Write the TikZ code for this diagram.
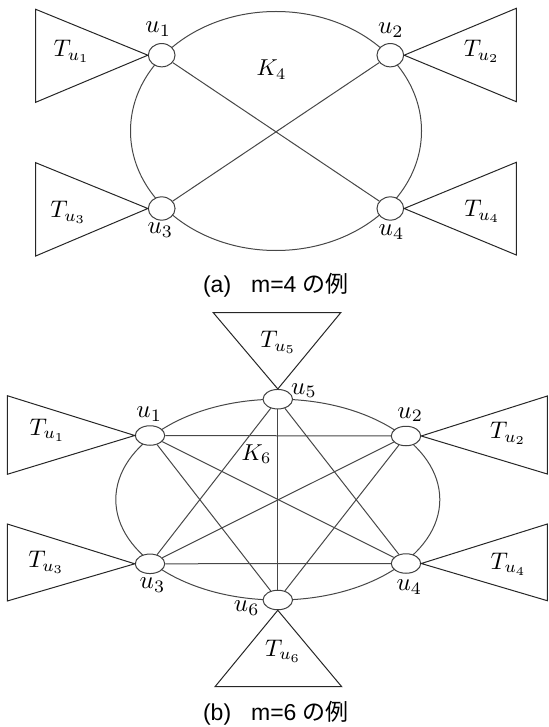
\documentclass[tikz,border=0pt]{standalone}
\usepackage{fontspec}
\setmainfont{Liberation Sans}
\newfontfamily\cjk{Noto Sans CJK JP}
\usetikzlibrary{shapes.geometric}
\begin{document}
\begin{tikzpicture}[x=1pt,y=-1pt,
  vert/.style={ellipse,draw=black!75,fill=white,line width=1pt,inner sep=0pt},
  vtop/.style={vert,minimum width=26.7pt,minimum height=23.3pt},
  vbot/.style={vert,minimum width=29.5pt,minimum height=19.5pt},
  edge/.style={draw=black!72,line width=1pt},
  tri/.style={draw=black!85,line width=1pt},
  ulab/.style={inner sep=0pt,scale=2.5},
  tlab/.style={inner sep=0pt,scale=2.4},
  klab/.style={inner sep=0pt,scale=2.3},
  captext/.style={font=\fontsize{23}{27}\selectfont,anchor=base,inner sep=0pt}]
\useasboundingbox (0,0) rectangle (548,727);

% ---------- (a) K4 ----------
\draw[edge] (276,131) ellipse [x radius=145.5pt, y radius=119.5pt];
\node[vtop] (a1) at (161.7,55.2) {};
\node[vtop] (a2) at (390.3,55.2) {};
\node[vtop] (a3) at (161.7,208.5) {};
\node[vtop] (a4) at (390.3,208.5) {};
\draw[edge] (a1) -- (a4);
\draw[edge] (a2) -- (a3);

\coordinate (t1a) at (35.7,9.3);   \coordinate (t1b) at (35.7,102.3);
\coordinate (t2a) at (516.3,8.3);  \coordinate (t2b) at (516.3,101.7);
\coordinate (t3a) at (35.7,162.7); \coordinate (t3b) at (35.7,256);
\coordinate (t4a) at (516.3,162.3);\coordinate (t4b) at (516.3,255);
\draw[tri] (a1.west) -- (t1a) -- (t1b) -- cycle;
\draw[tri] (a2.east) -- (t2a) -- (t2b) -- cycle;
\draw[tri] (a3.west) -- (t3a) -- (t3b) -- cycle;
\draw[tri] (a4.east) -- (t4a) -- (t4b) -- cycle;

\node[ulab] (la1) at (158.2,29.2) {$u_1$};
\node[ulab] (la2) at (390.8,30) {$u_2$};
\node[ulab] (la3) at (160.3,230.3) {$u_3$};
\node[ulab] (la4) at (391.5,232) {$u_4$};
\node[tlab] (lt1) at (71.7,51.7) {$T_{u_1}$};
\node[tlab] (lt2) at (481.8,51.7) {$T_{u_2}$};
\node[tlab] (lt3) at (68.3,212.5) {$T_{u_3}$};
\node[tlab] (lt4) at (482.3,211.3) {$T_{u_4}$};
\node[klab] (k4) at (271.5,69.5) {$K_4$};

\node[captext] (capa) at (276,292) {(a)\hspace{20pt}m=4 {\cjk の例}};

% ---------- (b) K6 ----------
\draw[edge] (277.8,499.6) ellipse [x radius=162pt, y radius=100.4pt];
\node[vbot] (b5) at (277.8,399.2) {};
\node[vbot] (b6) at (277.8,600) {};
\node[vbot] (b1) at (150,435.5) {};
\node[vbot] (b2) at (406,436) {};
\node[vbot] (b3) at (150,563.8) {};
\node[vbot] (b4) at (406,563.5) {};
\draw[edge] (b1) -- (b2);
\draw[edge] (b3) -- (b4);
\draw[edge] (b5) -- (b6);
\draw[edge] (b1) -- (b4);
\draw[edge] (b2) -- (b3);
\draw[edge] (b1) -- (b6);
\draw[edge] (b2) -- (b6);
\draw[edge] (b5) -- (b3);
\draw[edge] (b5) -- (b4);

\coordinate (s1a) at (7.3,395.7);   \coordinate (s1b) at (7.3,474.3);
\coordinate (s2a) at (547.3,396);   \coordinate (s2b) at (547.3,474);
\coordinate (s3a) at (7.3,524);     \coordinate (s3b) at (7.3,601);
\coordinate (s4a) at (547.3,524);   \coordinate (s4b) at (547.3,600.7);
\coordinate (s5a) at (213.3,312.7); \coordinate (s5b) at (340.7,312.7);
\coordinate (s6a) at (215,686.7);   \coordinate (s6b) at (341.7,686.7);
\draw[tri] (b1.west) -- (s1a) -- (s1b) -- cycle;
\draw[tri] (b2.east) -- (s2a) -- (s2b) -- cycle;
\draw[tri] (b3.west) -- (s3a) -- (s3b) -- cycle;
\draw[tri] (b4.east) -- (s4a) -- (s4b) -- cycle;
\draw[tri] (b5.north) -- (s5a) -- (s5b) -- cycle;
\draw[tri] (b6.south) -- (s6a) -- (s6b) -- cycle;

\node[ulab] (lb1) at (149.2,413.8) {$u_1$};
\node[ulab] (lb2) at (410.2,414.5) {$u_2$};
\node[ulab] (lb3) at (152.5,585) {$u_3$};
\node[ulab] (lb4) at (409.3,587) {$u_4$};
\node[ulab] (lb5) at (304,390.7) {$u_5$};
\node[ulab] (lb6) at (246.7,608.3) {$u_6$};
\node[tlab] (ls1) at (47.5,430) {$T_{u_1}$};
\node[tlab] (ls2) at (508.2,433.7) {$T_{u_2}$};
\node[tlab] (ls3) at (46.3,562.2) {$T_{u_3}$};
\node[tlab] (ls4) at (508.5,563.8) {$T_{u_4}$};
\node[tlab] (ls5) at (278.3,342.2) {$T_{u_5}$};
\node[tlab] (ls6) at (283.2,650.8) {$T_{u_6}$};
\node[klab] (k6) at (256.6,454.3) {$K_6$};

\node[captext] (capb) at (276,720.5) {(b)\hspace{20pt}m=6 {\cjk の例}};
\end{tikzpicture}
\end{document}
